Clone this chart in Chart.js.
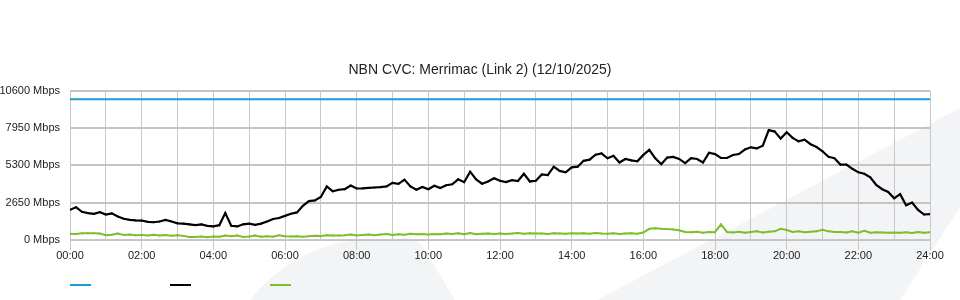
<!DOCTYPE html>
<html>
<head>
<meta charset="utf-8">
<script src="https://cdn.jsdelivr.net/npm/chart.js@4.4.4/dist/chart.umd.min.js"></script>
<style>
    html, body { margin: 0; padding: 0; background: #fff; }
    #wrap { position: relative; width: 960px; height: 300px; overflow: hidden; }
    #bg { position: absolute; left: 0; top: 0; }
    #chart { position: absolute; left: 0; top: 0; }
    #legend { position: absolute; left: 70px; top: 284px; display: flex; }
    #legend span { display: block; width: 21px; height: 2px; margin-right: 79px; }
</style>
</head>
<body>
<div id="wrap">
    <!-- light decorative swooshes behind the chart -->
    <svg id="bg" width="960" height="300">
        <path d="M250,300 Q290,250 350,241 L410,238 Q420,240 425,250 L455,300 Z" fill="#f3f4f6"/>
        <path d="M597,300 L960,108 L960,207 L900,300 Z" fill="#f3f4f6"/>
    </svg>
    <canvas id="chart" width="960" height="300"></canvas>
    <div id="legend"></div>
</div>
<script>
// samples every 10 minutes, 00:00 .. 24:00
const stepMinutes = 10;

const capacity = 10000;

// download (Mbps), one row per hour
const download = [
    2130, 2320, 1990, 1900, 1850, 1970,
    1800, 1880, 1660, 1500, 1420, 1380,
    1370, 1280, 1250, 1300, 1420, 1300,
    1170, 1150, 1100, 1050, 1100, 990,
    950, 1040, 1900, 1000, 950, 1100,
    1150, 1060, 1150, 1300, 1480, 1550,
    1700, 1850, 1950, 2420, 2750, 2800,
    3050, 3800, 3450, 3560, 3600, 3860,
    3650, 3660, 3690, 3720, 3750, 3800,
    4050, 3980, 4280, 3800, 3560, 3760,
    3600, 3850, 3680, 3880, 3950, 4300,
    4100, 4850, 4300, 3990, 4150, 4380,
    4200, 4100, 4240, 4180, 4700, 4150,
    4200, 4650, 4600, 5200, 4900, 4800,
    5150, 5200, 5620, 5700, 6050, 6150,
    5800, 5980, 5500, 5750, 5650, 5580,
    6040, 6400, 5800, 5380, 5850, 5900,
    5750, 5450, 5800, 5750, 5500, 6200,
    6100, 5820, 5820, 6030, 6100, 6420,
    6580, 6500, 6700, 7800, 7700, 7200,
    7650, 7250, 7000, 7120, 6800, 6600,
    6300, 5900, 5800, 5350, 5350, 5050,
    4800, 4700, 4450, 3900, 3600, 3400,
    2950, 3250, 2450, 2650, 2130, 1800,
    1820
];

// upload (Mbps)
const upload = [
    430, 420, 470, 470, 470, 450,
    330, 360, 450, 340, 370, 320,
    350, 300, 360, 300, 340, 290,
    330, 280, 200, 200, 230, 190,
    240, 210, 300, 250, 310, 200,
    240, 300, 220, 260, 220, 330,
    260, 240, 260, 220, 250, 280,
    270, 330, 300, 300, 330, 380,
    300, 350, 380, 320, 380, 420,
    340, 400, 360, 430, 400, 420,
    380, 420, 400, 440, 410, 470,
    400, 480, 390, 430, 450, 420,
    450, 420, 440, 480, 430, 470,
    440, 450, 420, 460, 450, 430,
    470, 440, 460, 430, 480, 450,
    430, 460, 420, 450, 470, 430,
    520, 780, 830, 790, 760, 740,
    680, 560, 530, 580, 510, 560,
    540, 1100, 560, 520, 580, 500,
    560, 600, 520, 580, 600, 780,
    700, 560, 600, 540, 580, 600,
    720, 600, 560, 560, 520, 600,
    510, 640, 500, 540, 520, 500,
    520, 500, 530, 480, 550, 510,
    540
];

const yTicks = [0, 2650, 5300, 7950, 10600];

const toPoints = arr => arr.map((v, i) => ({ x: i * stepMinutes / 60, y: v }));
const pad2 = n => String(n).padStart(2, '0');

const fontFamily = '"Liberation Sans", Arial, sans-serif';
const gridColor = '#c8c8c8';

const chart = new Chart(document.getElementById('chart'), {
    type: 'line',
    data: {
        datasets: [
            {
                label: 'Capacity',
                data: [{ x: 0, y: capacity }, { x: 24, y: capacity }],
                borderColor: '#1b9bdc',
                borderWidth: 2,
                pointRadius: 0
            },
            {
                label: 'Download',
                data: toPoints(download),
                borderColor: '#000000',
                borderWidth: 2.2,
                pointRadius: 1,
                pointBackgroundColor: '#000000',
                pointBorderWidth: 0
            },
            {
                label: 'Upload',
                data: toPoints(upload),
                borderColor: '#7dbf2a',
                borderWidth: 2,
                pointRadius: 1,
                pointBackgroundColor: '#7dbf2a',
                pointBorderWidth: 0
            }
        ]
    },
    options: {
        responsive: false,
        animation: false,
        layout: { padding: { left: 0, right: 0, top: 0, bottom: 37 } },
        plugins: {
            legend: { display: false },
            tooltip: { enabled: false },
            title: {
                display: true,
                text: 'NBN CVC: Merrimac (Link 2) (12/10/2025)',
                color: '#222',
                font: { family: fontFamily, size: 14, weight: 'normal' },
                padding: { top: 62, bottom: 12 }
            }
        },
        elements: { line: { tension: 0 } },
        scales: {
            x: {
                type: 'linear',
                min: 0,
                max: 24,
                ticks: {
                    stepSize: 1,
                    padding: 0,
                    color: '#222',
                    maxRotation: 0,
                    autoSkip: false,
                    font: { family: fontFamily, size: 11 },
                    callback: v => (v % 2 === 0 ? pad2(v) + ':00' : '')
                },
                grid: {
                    color: gridColor,
                    lineWidth: 1,
                    tickLength: 10,
                    tickColor: ctx => (ctx.tick && ctx.tick.value % 2 === 0 ? gridColor : 'rgba(0,0,0,0)')
                },
                border: { color: gridColor }
            },
            y: {
                min: 0,
                max: 10600,
                afterBuildTicks: scale => { scale.ticks = yTicks.map(v => ({ value: v })); },
                afterFit: scale => { scale.width = 70; },
                ticks: {
                    padding: 10,
                    color: '#222',
                    font: { family: fontFamily, size: 11 },
                    callback: v => v + ' Mbps'
                },
                grid: { color: '#c4c4c4', lineWidth: 2, drawTicks: false },
                border: { color: gridColor }
            },
            // empty right-hand gutter so the title stays centred on the page
            gutter: {
                position: 'right',
                display: true,
                min: 0,
                max: 1,
                afterFit: scale => { scale.width = 30; },
                ticks: { display: false },
                grid: { display: false },
                border: { display: false }
            }
        }
    }
});

// simple html legend: short coloured strokes only
const legendEl = document.getElementById('legend');
chart.data.datasets.forEach(ds => {
    const s = document.createElement('span');
    s.style.background = ds.borderColor;
    legendEl.appendChild(s);
});
</script>
</body>
</html>
